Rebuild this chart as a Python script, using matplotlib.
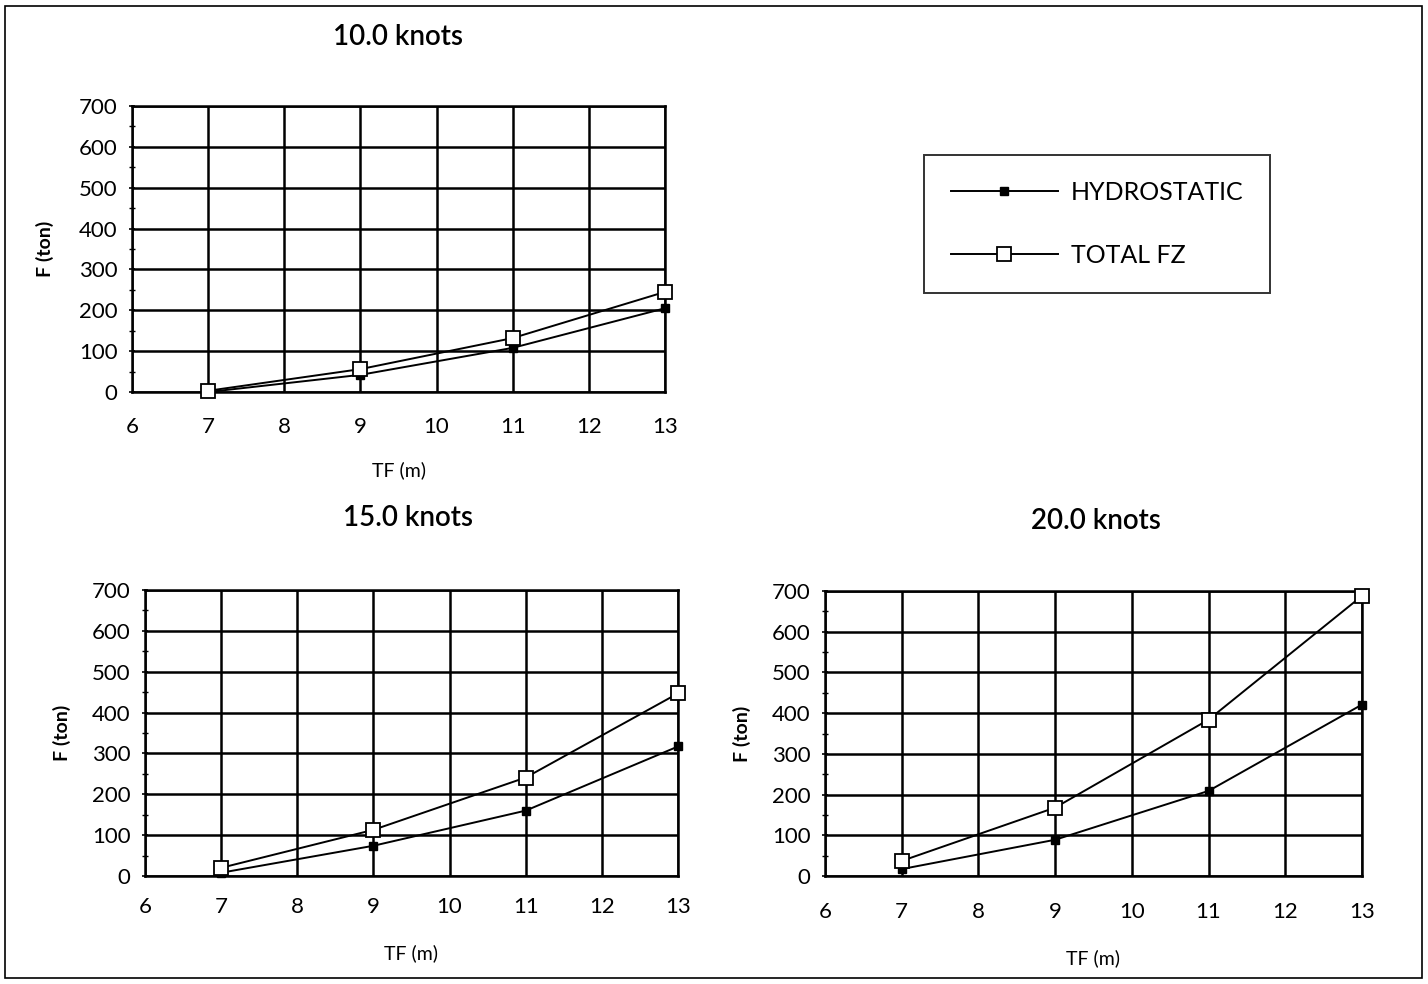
import matplotlib
matplotlib.use("Agg")
import matplotlib.pyplot as plt
from matplotlib.patches import Rectangle
from matplotlib.ticker import MultipleLocator

plt.rcParams['font.family'] = ['Lato', 'DejaVu Sans']

tf = [7, 9, 11, 13]
titles = ["10.0 knots", "15.0 knots", "20.0 knots"]
hydro = [
    [0, 42, 108, 205],
    [8, 74, 160, 317],
    [17, 89, 209, 421],
]
total = [
    [3, 56, 132, 245],
    [20, 113, 241, 447],
    [37, 168, 384, 688],
]
xticks = [6, 7, 8, 9, 10, 11, 12, 13]
yticks = [0, 100, 200, 300, 400, 500, 600, 700]
series_names = ["HYDROSTATIC", "TOTAL FZ"]

W, H = 1428, 984
fig = plt.figure(figsize=(W / 100, H / 100), dpi=100)

def frac(l, t, r, b):
    return [l / W, 1 - b / H, (r - l) / W, (b - t) / H]

boxes = [frac(132, 106, 665, 392), frac(145, 590, 678, 876), frac(825, 591, 1362, 876)]
title_pos = [(398, 37), (408, 518), (1096, 521)]
ylabel_x = [45, 62, 742]
xlabel_y = [470, 953, 958]
xpads = [18, 15, 19]

# outer frame
fig.patches.append(Rectangle((5 / W, 6 / H), 1417 / W, 972 / H, transform=fig.transFigure,
                             fill=False, edgecolor='black', linewidth=1.2))

for i in range(3):
    ax = fig.add_axes(boxes[i])
    l1, = ax.plot(tf, hydro[i], color='black', lw=1.4, marker='s', ms=5.5,
                  mfc='black', mec='black', label=series_names[0], zorder=3, clip_on=False)
    l2, = ax.plot(tf, total[i], color='black', lw=1.4, marker='s', ms=10,
                  mfc='white', mec='black', mew=1.3, label=series_names[1], zorder=4,
                  clip_on=False)
    ax.set_xlim(6, 13)
    ax.set_ylim(0, 700)
    ax.set_xticks(xticks)
    ax.set_yticks(yticks)
    ax.yaxis.set_minor_locator(MultipleLocator(50))
    ax.grid(True, which='major', color='black', lw=1.8)
    for s in ax.spines.values():
        s.set_linewidth(1.8)
    ax.tick_params(axis='y', which='major', labelsize=16, length=5, width=1.2,
                   direction='inout', pad=8)
    ax.tick_params(axis='y', which='minor', length=4, width=1.0, direction='inout')
    ax.tick_params(axis='x', which='major', labelsize=16, length=0, pad=xpads[i])
    ax.set_axisbelow(True)
    tx, ty = title_pos[i]
    fig.text(tx / W, 1 - ty / H, titles[i], ha='center', va='center',
             fontsize=20, fontweight='semibold')
    b = boxes[i]
    fig.text(ylabel_x[i] / W, b[1] + b[3] / 2, "F (ton)", rotation=90,
             ha='center', va='center', fontsize=14, fontweight='bold')
    fig.text(b[0] + b[2] / 2, 1 - xlabel_y[i] / H, "TF (m)", ha='center',
             va='center', fontsize=14)
    if i == 0:
        handles = [l1, l2]

leg = fig.legend(handles, series_names, loc='center',
                 bbox_to_anchor=(1097 / W, 1 - 224 / H), frameon=True, fancybox=False,
                 edgecolor='black', fontsize=18, handlelength=4.3, labelspacing=1.6,
                 borderpad=1.05, handletextpad=0.5, borderaxespad=0)
leg.get_frame().set_linewidth(1.4)

fig.savefig("out.png", dpi=100)
